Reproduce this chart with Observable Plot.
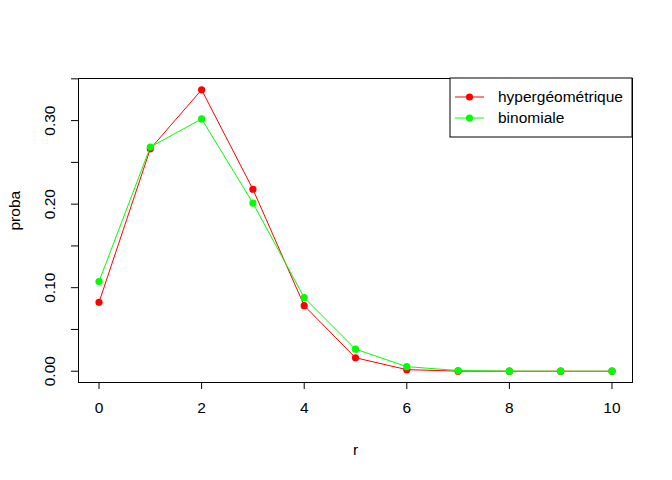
<!DOCTYPE html>
<html>
<head>
<meta charset="utf-8">
<script src="https://cdn.jsdelivr.net/npm/d3@7"></script>
<script src="https://cdn.jsdelivr.net/npm/@observablehq/plot@0.6"></script>
<style>
  html, body { margin: 0; padding: 0; background: #fff; }
  svg { font-family: "Liberation Sans", Arial, sans-serif; }
</style>
</head>
<body>
<div id="chart"></div>
<script>
const r = [0, 1, 2, 3, 4, 5, 6, 7, 8, 9, 10];
const hyper = [0.0825, 0.2662, 0.3369, 0.2178, 0.0785, 0.0161, 0.0019, 0.0001, 0, 0, 0];
const binom = [0.1074, 0.2684, 0.3020, 0.2013, 0.0881, 0.0264, 0.0055, 0.0008, 0.0001, 0, 0];
const seriesNames = ["hypergéométrique", "binomiale"];
const seriesColors = ["#FF0000", "#00FF00"];
const xTicks = [0, 2, 4, 6, 8, 10];
const yTicks = [0, 0.05, 0.10, 0.15, 0.20, 0.25, 0.30, 0.35];
const yLabelTicks = [0, 0.10, 0.20, 0.30];
const xLabel = "r";
const yLabel = "proba";

const dataH = r.map((x, i) => ({r: x, p: hyper[i]}));
const dataB = r.map((x, i) => ({r: x, p: binom[i]}));

const fs = 15.5;
const chart = Plot.plot({
  width: 672,
  height: 480,
  marginLeft: 78,
  marginRight: 40,
  marginTop: 78,
  marginBottom: 98,
  style: {fontSize: fs + "px", fontFamily: "'Liberation Sans', Arial, sans-serif", color: "#000", background: "#fff"},
  x: {domain: [-0.4, 10.4]},
  y: {domain: [-0.0135, 0.3504]},
  marks: [
    Plot.frame({stroke: "#000", strokeWidth: 1}),
    Plot.axisX(xTicks, {tickSize: 7, tickPadding: 12, label: null, stroke: "#000", fill: "#000"}),
    Plot.axisY(yTicks, {tickSize: 7, tickFormat: () => "", label: null, stroke: "#000"}),
    Plot.text(yLabelTicks, {frameAnchor: "left", y: d => d, dx: -28, text: d => d.toFixed(2), rotate: -90, textAnchor: "middle", lineAnchor: "middle", fill: "#000"}),
    Plot.text([xLabel], {frameAnchor: "bottom", dy: 68, text: d => d, fill: "#000", lineAnchor: "middle"}),
    Plot.text([yLabel], {frameAnchor: "left", dx: -63, text: d => d, rotate: -90, fill: "#000", lineAnchor: "middle"}),
    Plot.line(dataH, {x: "r", y: "p", stroke: seriesColors[0], strokeWidth: 1}),
    Plot.dot(dataH, {x: "r", y: "p", fill: seriesColors[0], r: 3.6, stroke: null}),
    Plot.line(dataB, {x: "r", y: "p", stroke: seriesColors[1], strokeWidth: 1}),
    Plot.dot(dataB, {x: "r", y: "p", fill: seriesColors[1], r: 3.6, stroke: null})
  ]
});
document.getElementById("chart").appendChild(chart);

// Legend (top-right, inside plot box)
const xs = chart.scale("x"), ys = chart.scale("y");
const legRight = xs.apply(10.4), legTop = ys.apply(0.3504);
const svgSel = d3.select(chart);
const lw = 182, lh = 59;
const g = svgSel.append("g").attr("transform", `translate(${legRight - lw},${legTop})`);
g.append("rect").attr("x", 0).attr("y", 0).attr("width", lw).attr("height", lh)
  .attr("fill", "#fff").attr("stroke", "#000");
seriesNames.forEach((name, i) => {
  const cy = 19 + i * 21;
  g.append("line").attr("x1", 5).attr("x2", 34).attr("y1", cy).attr("y2", cy)
    .attr("stroke", seriesColors[i]).attr("stroke-width", 1);
  g.append("circle").attr("cx", 19.5).attr("cy", cy).attr("r", 3.6).attr("fill", seriesColors[i]);
  g.append("text").attr("x", 48).attr("y", cy).attr("dy", "0.35em")
    .attr("text-anchor", "start")
    .attr("font-size", fs).attr("fill", "#000").text(name);
});
</script>
</body>
</html>
